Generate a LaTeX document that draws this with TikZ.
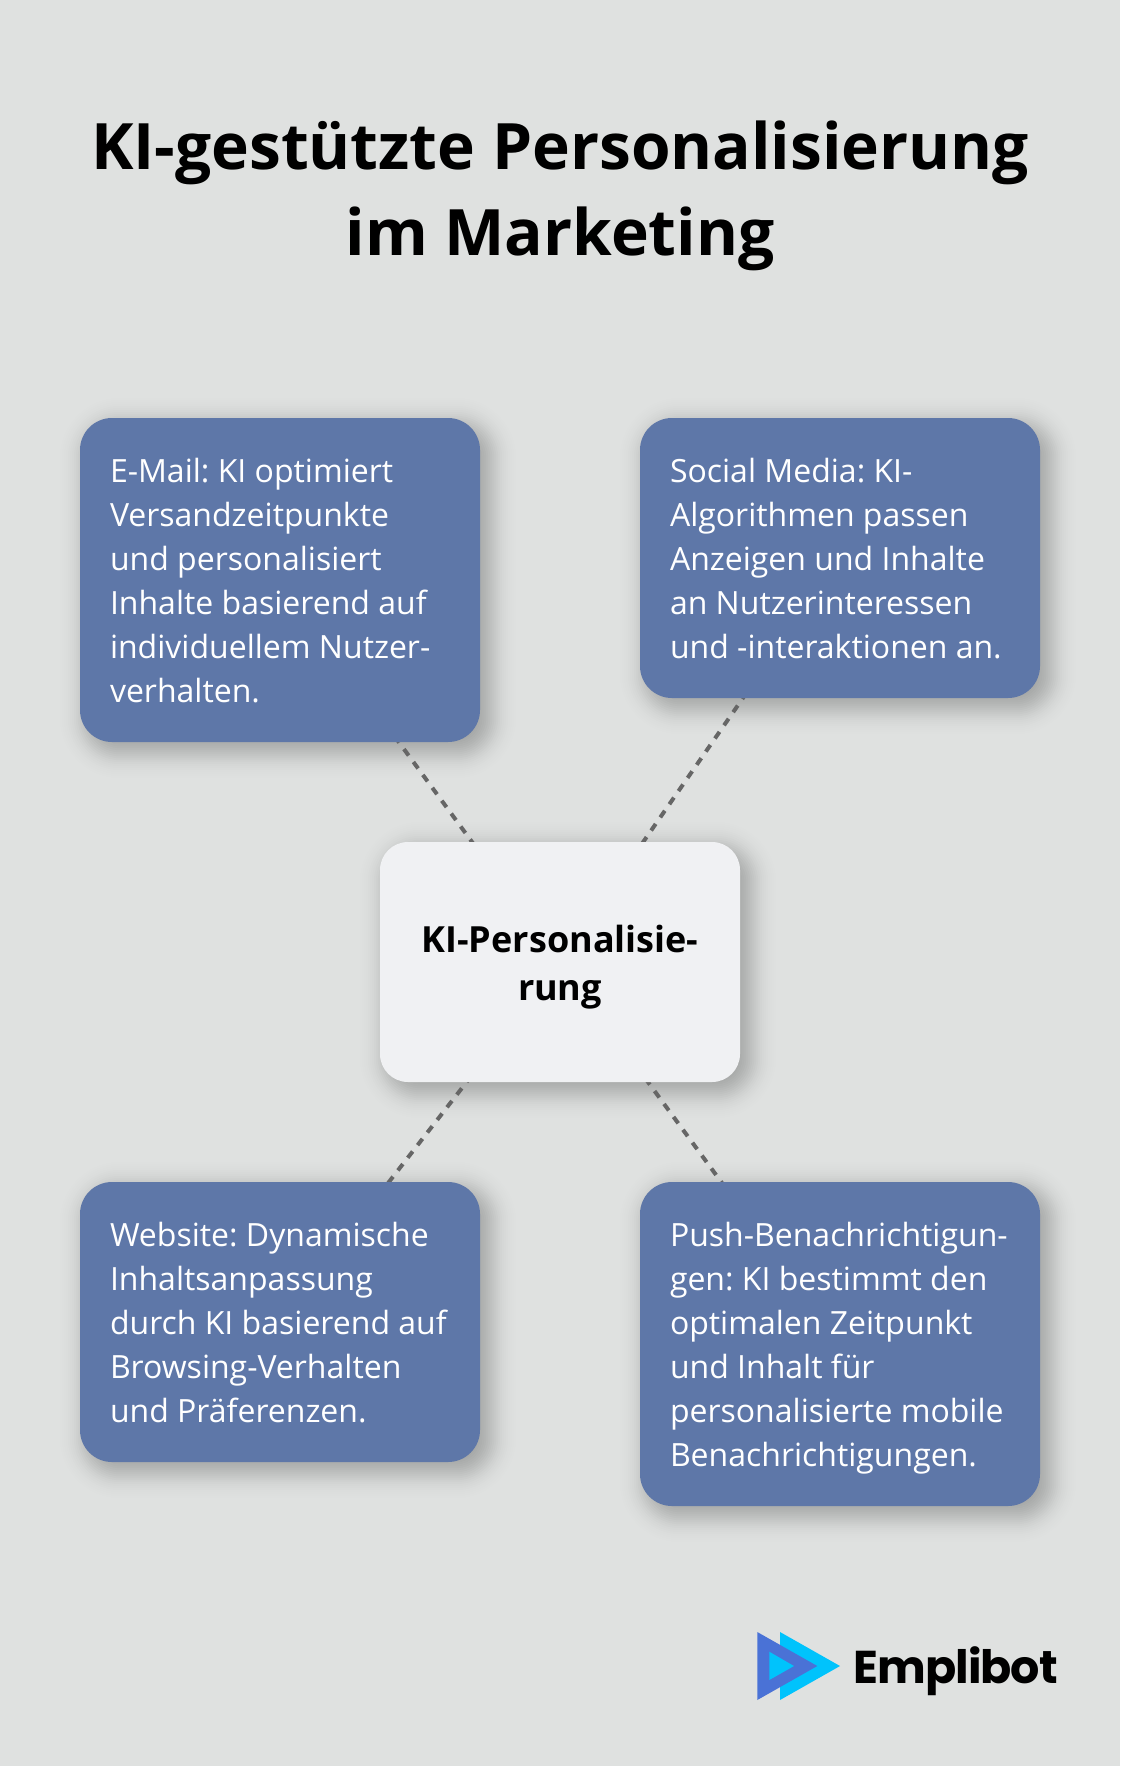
\documentclass[tikz,border=0pt]{standalone}
\usepackage{fontspec}
\setmainfont{Open Sans}
\newfontfamily\logofont[LetterSpace=-2.2]{Poppins}
\usetikzlibrary{backgrounds}
\pgfdeclarelayer{shadowlayer}
\pgfdeclarelayer{linelayer}
\pgfsetlayers{background,shadowlayer,linelayer,main}
\definecolor{pagebg}{HTML}{DFE1E0}
\definecolor{boxblue}{HTML}{5E77A8}
\definecolor{centerbox}{HTML}{F0F1F3}
\definecolor{linegray}{HTML}{666666}
\definecolor{logodark}{HTML}{4A72D6}
\definecolor{logolight}{HTML}{00C3FC}
\newcommand{\bodystrut}{\rule[-9.6pt]{0pt}{44pt}}
\newcommand{\centerstrut}{\rule[-10pt]{0pt}{48pt}}
\newcommand{\titlestrut}{\rule[-18.2pt]{0pt}{86pt}}
\tikzset{
  x=1pt,y=-1pt,
  bluebox/.style={fill=boxblue,text=white,rounded corners=32pt,minimum width=400pt,text width=340pt,
    inner xsep=30pt,inner ysep=0pt,align=flush left,
    font=\fontsize{32}{44}\selectfont\frenchspacing},
  centernode/.style={fill=centerbox,text=black,rounded corners=28pt,minimum width=360pt,minimum height=240pt,
    text width=320pt,inner sep=0pt,align=center,font=\fontsize{36}{48}\selectfont\bfseries},
  titlenode/.style={text=black,align=center,inner sep=0pt,font=\fontsize{64}{86}\selectfont\bfseries},
  logotext/.style={text=black,inner sep=0pt,anchor=base west,font=\logofont\fontsize{46}{46}\selectfont\bfseries},
  connector/.style={draw=linegray,line width=4pt,dash pattern=on 8pt off 8pt},
}
\newcommand{\softshadow}[3]{% node, dx, dy
  \begin{pgfonlayer}{shadowlayer}
    \foreach \k in {40,38,...,-28}{
      \pgfmathsetmacro{\shadowop}{0.0182*exp(-(\k*\k)/392)}
      \pgfmathsetmacro{\shadowrad}{max(32+\k,2)}
      \fill[black,opacity=\shadowop,rounded corners=\shadowrad pt]
        ([shift={(#2-\k,#3-\k)}]#1.north west) rectangle ([shift={(#2+\k,#3+\k)}]#1.south east);
    }
  \end{pgfonlayer}}
\begin{document}
\begin{tikzpicture}
\useasboundingbox (0,0) rectangle (1120,1766);
\begin{pgfonlayer}{background}
  \fill[pagebg] (0,0) rectangle (1120,1766);
\end{pgfonlayer}
\node[titlenode] (title) at (560,187.5) {\titlestrut KI-gestützte Personalisierung\\\titlestrut im Marketing};
\node[bluebox,minimum height=324pt] (email) at (280,580) {\bodystrut E-Mail: KI optimiert\\Versandzeitpunkte\\und personalisiert\\Inhalte basierend auf\\individuellem Nutzer-\\verhalten.\bodystrut};
\node[bluebox,minimum height=280pt] (social) at (840,558) {\bodystrut Social Media: KI-\\Algorithmen passen\\Anzeigen und Inhalte\\an Nutzerinteressen\\und -interaktionen an.\bodystrut};
\node[bluebox,minimum height=280pt] (web) at (280,1322) {\bodystrut Website: Dynamische\\Inhaltsanpassung\\durch KI basierend auf\\Browsing-Verhalten\\und Präferenzen.\bodystrut};
\node[bluebox,minimum height=324pt] (push) at (840,1344) {\bodystrut Push-Benachrichtigun-\\gen: KI bestimmt den\\optimalen Zeitpunkt\\und Inhalt für\\personalisierte mobile\\Benachrichtigungen.\bodystrut};
\node[centernode] (center) at (560,962) {\centerstrut KI-Personalisie-\\rung\centerstrut};
\softshadow{email}{8}{8}
\softshadow{social}{8}{8}
\softshadow{web}{8}{8}
\softshadow{push}{8}{8}
\softshadow{center}{8}{8}
\begin{pgfonlayer}{linelayer}
  \draw[connector] (center.center) -- (email.center);
  \draw[connector] (center.center) -- (social.center);
  \draw[connector] (center.center) -- (web.center);
  \draw[connector] (center.center) -- (push.center);
\end{pgfonlayer}
\fill[logolight] (780,1632) -- (780,1700) -- (840,1666) -- cycle;
\fill[logodark] (757.3,1632) -- (757.3,1700) -- (817.3,1666) -- cycle;
\fill[logolight] (769.3,1651.7) -- (769.3,1680) -- (794,1666) -- cycle;
\node[logotext] (logo) at (853.5,1683) {Emplibot};
\end{tikzpicture}
\end{document}
